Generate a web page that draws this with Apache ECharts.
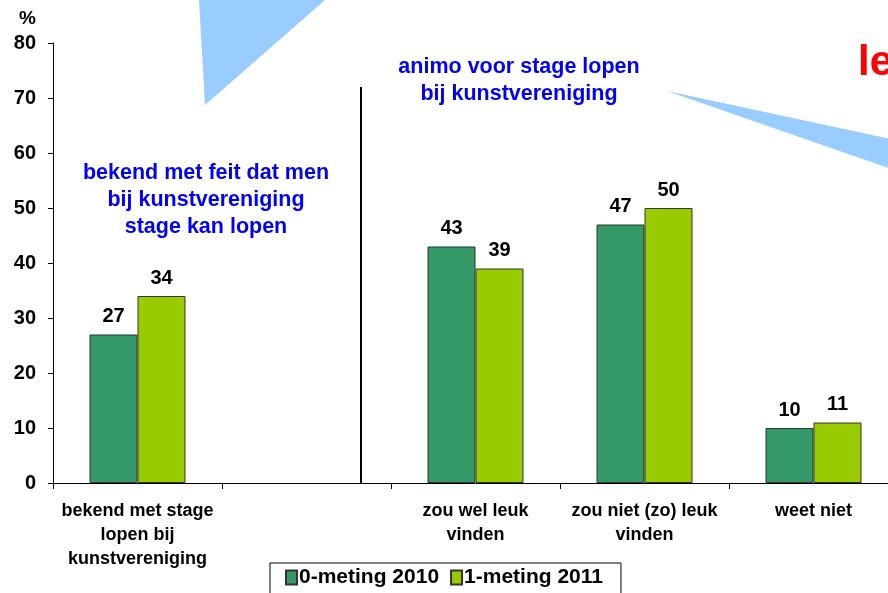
<!DOCTYPE html>
<html>
<head>
<meta charset="utf-8">
<script src="https://cdn.jsdelivr.net/npm/echarts@6/dist/echarts.min.js"></script>
<style>
html,body{margin:0;padding:0;background:#fff;overflow:hidden;}
#c{width:900px;height:593px;}
</style>
</head>
<body>
<div id="c"></div>
<script>
var categories = ['bekend met stage\nlopen bij\nkunstvereniging', '', 'zou wel leuk\nvinden', 'zou niet (zo) leuk\nvinden', 'weet niet'];
var meting2010 = [27, null, 43, 47, 10];
var meting2011 = [34, null, 39, 50, 11];
var seriesNames = ['0-meting 2010', '1-meting 2011'];
var yTicks = [0, 10, 20, 30, 40, 50, 60, 70, 80];

var FONT = 'Liberation Sans, Arial, sans-serif';
var chart = echarts.init(document.getElementById('c'), null, {renderer: 'canvas'});

var labelStyle = {show: true, position: 'top', distance: 8, color: '#000', fontFamily: FONT, fontWeight: 'bold', fontSize: 20};

chart.setOption({
  animation: false,
  backgroundColor: '#fff',
  grid: {left: 53, right: 2, top: 43, bottom: 110, containLabel: false},
  legend: {
    data: seriesNames,
    left: 270, top: 563,
    orient: 'horizontal',
    itemWidth: 11, itemHeight: 14, itemGap: 11,
    padding: [4, 18, 12, 15],
    borderColor: '#000', borderWidth: 1,
    icon: 'rect',
    textStyle: {fontFamily: FONT, fontWeight: 'bold', fontSize: 21, color: '#000', padding: [0, 0, 0, -3]}
  },
  xAxis: {
    type: 'category',
    data: categories,
    axisLine: {lineStyle: {color: '#000', width: 1}},
    axisTick: {show: true, length: 6, lineStyle: {color: '#000'}},
    axisLabel: {color: '#000', fontFamily: FONT, fontWeight: 'bold', fontSize: 18, lineHeight: 24, margin: 16, interval: 0}
  },
  yAxis: {
    type: 'value', min: yTicks[0], max: yTicks[yTicks.length - 1], interval: 10,
    splitLine: {show: false},
    axisLine: {show: true, lineStyle: {color: '#000', width: 1}},
    axisTick: {show: true, length: 5, lineStyle: {color: '#000'}},
    axisLabel: {color: '#000', fontFamily: FONT, fontWeight: 'bold', fontSize: 20, margin: 17}
  },
  series: [
    {name: seriesNames[0], type: 'bar', data: meting2010, barWidth: 48, barGap: '0%',
     itemStyle: {color: '#339966', borderColor: '#333', borderWidth: 1}, label: labelStyle},
    {name: seriesNames[1], type: 'bar', data: meting2011, barWidth: 48, barGap: '0%',
     itemStyle: {color: '#99CC00', borderColor: '#333', borderWidth: 1}, label: labelStyle}
  ],
  graphic: [
    {type: 'polygon', z: -1, shape: {points: [[199, 0], [205, 105], [325, 0]]}, style: {fill: '#99CCFF'}},
    {type: 'polygon', z: -1, shape: {points: [[667, 91], [900, 141], [900, 172]]}, style: {fill: '#99CCFF'}},
    {type: 'line', shape: {x1: 361, y1: 87, x2: 361, y2: 483}, style: {stroke: '#000', lineWidth: 2}},
    {type: 'text', x: 19, y: 9, style: {text: '%', fill: '#000', font: 'bold 19px ' + FONT}},
    {type: 'text', x: 206, y: 160, style: {text: 'bekend met feit dat men\nbij kunstvereniging\nstage kan lopen', fill: '#0000FF', font: 'bold 21.5px ' + FONT, align: 'center', lineHeight: 27}},
    {type: 'text', x: 519, y: 54, style: {text: 'animo voor stage lopen\nbij kunstvereniging', fill: '#0000FF', font: 'bold 21.5px ' + FONT, align: 'center', lineHeight: 27}},
    {type: 'text', x: 858, y: 42, style: {text: 'le', fill: '#FF0000', font: 'bold 42px ' + FONT}}
  ]
});
</script>
</body>
</html>
